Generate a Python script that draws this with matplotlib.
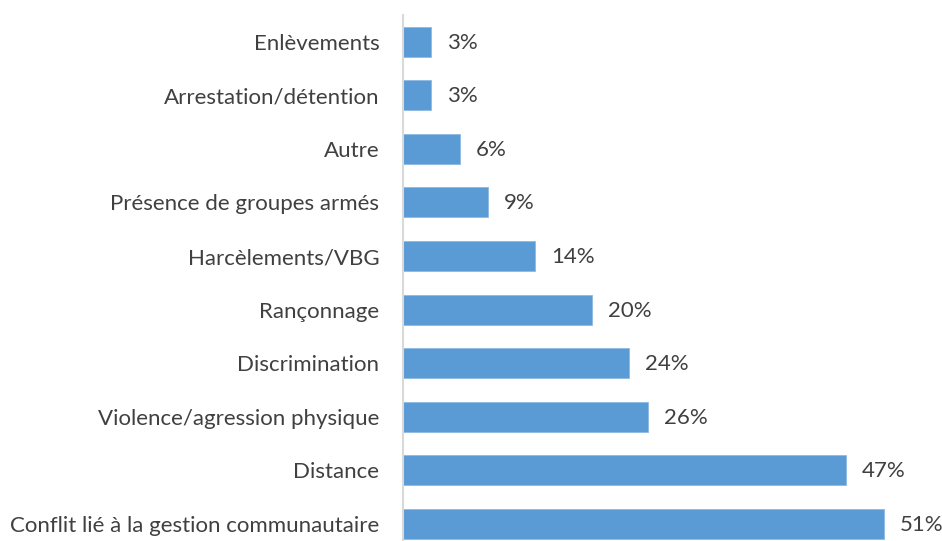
import matplotlib
matplotlib.use("Agg")
import matplotlib.pyplot as plt

categories = [
    "Enlèvements",
    "Arrestation/détention",
    "Autre",
    "Présence de groupes armés",
    "Harcèlements/VBG",
    "Rançonnage",
    "Discrimination",
    "Violence/agression physique",
    "Distance",
    "Conflit lié à la gestion communautaire",
]
percentages = [3, 3, 6, 9, 14, 20, 24, 26, 47, 51]

BAR_COLOR = "#5B9BD5"
TEXT_COLOR = "#404040"

plt.rcParams["font.family"] = ["Lato", "DejaVu Sans"]

fig = plt.figure(figsize=(9.42, 5.41), dpi=100)
W, H = 942, 541
ax = fig.add_axes([403 / W, 0, (931 - 403) / W, (541 - 15) / H])

positions = list(range(len(categories)))
ax.barh(positions, percentages, height=0.56, color=BAR_COLOR,
        edgecolor="#8DB9E3", linewidth=0.6)

for pos, value in zip(positions, percentages):
    ax.annotate(f"{value}%", xy=(value, pos), xytext=(16, -1),
                textcoords="offset pixels", va="center", ha="left",
                fontsize=16, color=TEXT_COLOR)

ax.set_xlim(0, 56)
ax.set_ylim(9.32, -0.5)
ax.set_yticks(positions)
ax.set_yticklabels(categories, fontsize=16, color=TEXT_COLOR)
ax.tick_params(axis="y", length=0, pad=17)
ax.set_xticks([])

for side in ("top", "right", "bottom"):
    ax.spines[side].set_visible(False)
ax.spines["left"].set_color("#D9D9D9")
ax.spines["left"].set_linewidth(1.5)

fig.savefig("out.png", dpi=100)
